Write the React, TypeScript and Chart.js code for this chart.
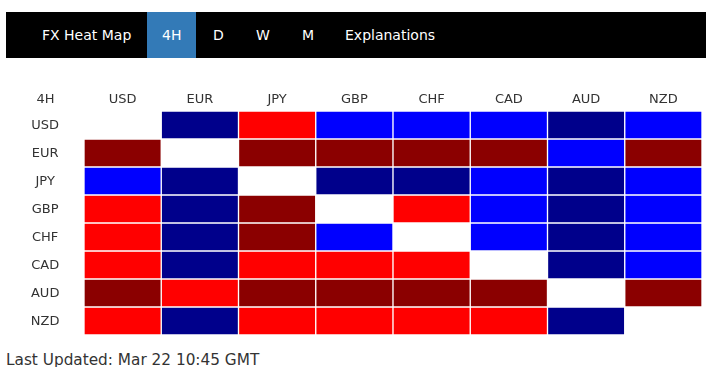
import React, { useEffect, useRef } from "react";
import { Chart, registerables } from "chart.js";

Chart.register(...registerables);

// ---- data ----
const currencies = ["USD", "EUR", "JPY", "GBP", "CHF", "CAD", "AUD", "NZD"];
const timeframe = "4H";
const navBrand = "FX Heat Map";
const navItems = ["4H", "D", "W", "M", "Explanations"];
const lastUpdated = "Last Updated: Mar 22 10:45 GMT";

// level per cell: 2 = strong up, 1 = up, 0 = same pair, -1 = down, -2 = strong down
const rowUSD = [0, -2, 1, -1, -1, -1, -2, -1];
const rowEUR = [2, 0, 2, 2, 2, 2, -1, 2];
const rowJPY = [-1, -2, 0, -2, -2, -1, -2, -1];
const rowGBP = [1, -2, 2, 0, 1, -1, -2, -1];
const rowCHF = [1, -2, 2, -1, 0, -1, -2, -1];
const rowCAD = [1, -2, 1, 1, 1, 0, -2, -1];
const rowAUD = [2, 1, 2, 2, 2, 2, 0, 2];
const rowNZD = [1, -2, 1, 1, 1, 1, -2, 0];
const rows = [rowUSD, rowEUR, rowJPY, rowGBP, rowCHF, rowCAD, rowAUD, rowNZD];

const levelColors: Record<string, string> = {
  "2": "#8B0000",
  "1": "#FF0000",
  "0": "#FFFFFF",
  "-1": "#0000FF",
  "-2": "#00008B",
};

const FONT = "'DejaVu Sans', Verdana, sans-serif";
const TEXT = "#333333";
const Y_PAD = 24.5;
const X_PAD = 4;

const navLeft: Record<string, number> = { "4H": 162, D: 213, W: 256, M: 302, Explanations: 345 };

export default function App() {
  const canvasRef = useRef<HTMLCanvasElement | null>(null);

  useEffect(() => {
    if (!canvasRef.current) return;
    const cornerPlugin = {
      id: "corner",
      afterDraw(chart: any) {
        const ctx = chart.ctx;
        const ys = chart.scales.y;
        const xs = chart.scales.x;
        ctx.save();
        ctx.font = `13px ${FONT}`;
        ctx.fillStyle = TEXT;
        ctx.textAlign = "center";
        ctx.textBaseline = "middle";
        ctx.fillText(timeframe, (ys.left + ys.right) / 2, xs.bottom - X_PAD - (13 * 1.2) / 2);
        ctx.restore();
      },
    };
    const chart = new Chart(canvasRef.current, {
      type: "bar",
      data: {
        labels: currencies,
        datasets: rows.map((row, i) => ({
          label: currencies[i],
          data: currencies.map(() => [i, i + 1]) as any,
          backgroundColor: row.map((v) => levelColors[String(v)]),
          borderColor: "#FFFFFF",
          borderWidth: 1,
          borderSkipped: false,
          barPercentage: 1,
          categoryPercentage: 1,
          grouped: false,
        })),
      },
      options: {
        animation: false,
        responsive: true,
        maintainAspectRatio: false,
        layout: { padding: 0, autoPadding: false },
        plugins: { legend: { display: false }, tooltip: { enabled: false } },
        scales: {
          x: {
            type: "category",
            position: "top",
            grid: { display: false, drawTicks: false },
            border: { display: false },
            ticks: { color: TEXT, font: { family: FONT, size: 13 }, padding: X_PAD },
            afterFit: (s: any) => {
              s.height = 27;
              s.paddingLeft = 0;
              s.paddingRight = 0;
            },
          },
          y: {
            type: "linear",
            reverse: true,
            min: 0,
            max: currencies.length,
            grid: { display: false, drawTicks: false },
            border: { display: false },
            afterBuildTicks: (ax: any) => {
              ax.ticks = currencies.map((_, i) => ({ value: i + 0.5 }));
            },
            ticks: {
              color: TEXT,
              font: { family: FONT, size: 13 },
              padding: Y_PAD,
              crossAlign: "center",
              labelOffset: 1,
              autoSkip: false,
              callback: (_v: any, idx: number) => currencies[idx],
            },
            afterFit: (s: any) => {
              s.width = 77;
              s.paddingTop = 0;
              s.paddingBottom = 0;
            },
          },
        },
      } as any,
      plugins: [cornerPlugin],
    });
    return () => chart.destroy();
  }, []);

  return (
    <div
      style={{
        position: "absolute",
        left: 0,
        top: 0,
        width: 712,
        height: 367,
        background: "#fff",
        fontFamily: FONT,
        overflow: "hidden",
      }}
    >
      <div
        style={{
          position: "absolute",
          left: 6,
          top: 12,
          width: 700,
          height: 46,
          background: "#000",
          color: "#fff",
          fontSize: 14,
          lineHeight: "46px",
        }}
      >
        <span style={{ position: "absolute", left: 36 }}>{navBrand}</span>
        <div style={{ position: "absolute", left: 141, top: 0, width: 49, height: 46, background: "#337AB7" }} />
        {navItems.map((t) => (
          <span key={t} style={{ position: "absolute", left: navLeft[t] - 6 }}>
            {t}
          </span>
        ))}
      </div>
      <div style={{ position: "absolute", left: 7, top: 84, width: 695, height: 251 }}>
        <canvas ref={canvasRef} />
      </div>
      <div
        style={{
          position: "absolute",
          left: 6,
          top: 352,
          fontSize: 15.3,
          lineHeight: "17px",
          color: TEXT,
          whiteSpace: "nowrap",
        }}
      >
        {lastUpdated}
      </div>
    </div>
  );
}
